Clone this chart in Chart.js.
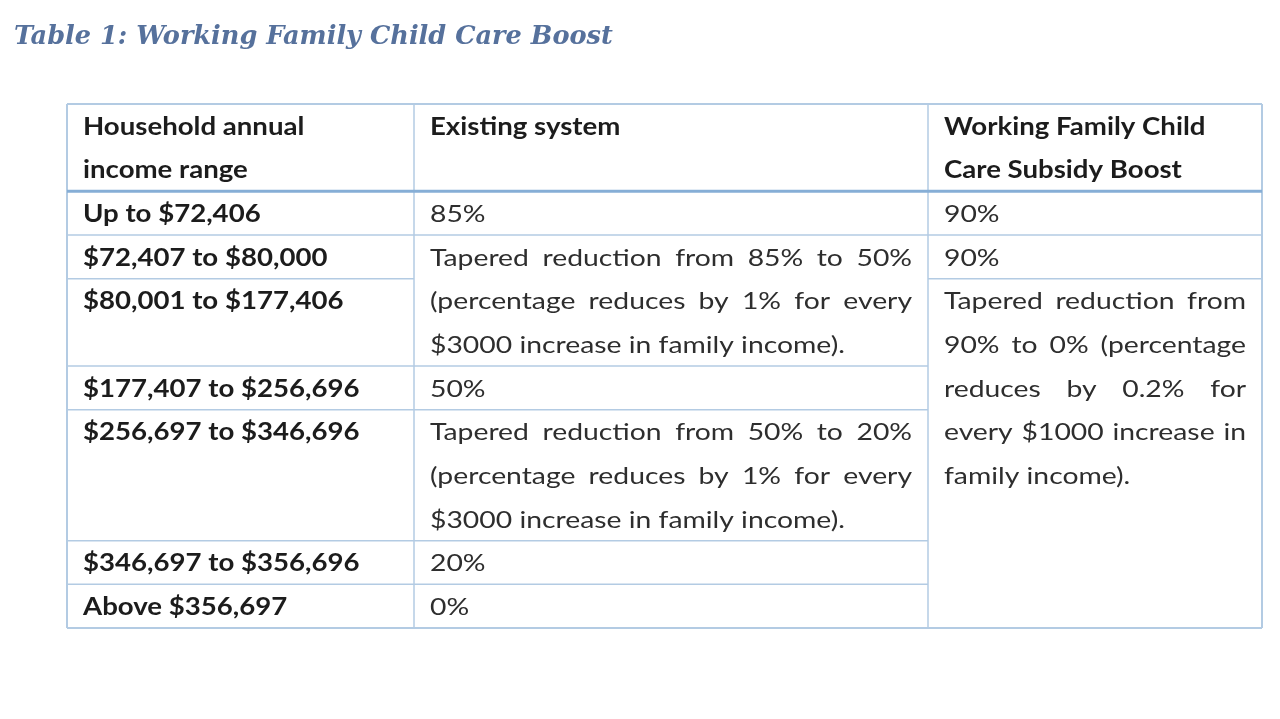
<!DOCTYPE html>
<html>
<head>
<meta charset="utf-8">
<script src="https://cdn.jsdelivr.net/npm/chart.js@4.4.1/dist/chart.umd.min.js"></script>
<style>
  html, body { margin: 0; padding: 0; background: #fff; }
  #wrap { width: 1280px; height: 719px; }
</style>
</head>
<body>
<div id="wrap"><canvas id="tableChart" width="1280" height="719"></canvas></div>
<script>
// table content
const title = "Table 1: Working Family Child Care Boost";
const headers = [
  ["Household annual", "income range"],
  ["Existing system"],
  ["Working Family Child", "Care Subsidy Boost"]
];
const incomeRanges = [
  "Up to $72,406",
  "$72,407 to $80,000",
  "$80,001 to $177,406",
  "$177,407 to $256,696",
  "$256,697 to $346,696",
  "$346,697 to $356,696",
  "Above $356,697"
];
// number of text lines each income row takes
const rowLines = [1, 1, 2, 1, 3, 1, 1];
// cells of the "existing system" column, rows = how many income rows the cell spans
const existingSystem = [
  { rows: 1, lines: ["85%"] },
  { rows: 2, lines: ["Tapered reduction from 85% to 50%", "(percentage reduces by 1% for every", "$3000 increase in family income)."] },
  { rows: 1, lines: ["50%"] },
  { rows: 1, lines: ["Tapered reduction from 50% to 20%", "(percentage reduces by 1% for every", "$3000 increase in family income)."] },
  { rows: 1, lines: ["20%"] },
  { rows: 1, lines: ["0%"] }
];
const subsidyBoost = [
  { rows: 1, lines: ["90%"] },
  { rows: 1, lines: ["90%"] },
  { rows: 5, lines: ["Tapered reduction from", "90% to 0% (percentage", "reduces by 0.2% for", "every $1000 increase in", "family income)."] }
];

// layout
const colWidths = [347, 514, 334];
const headerLines = 2;
const FONT = "Lato";
const FONT_SIZE = 24;
const SX_REG = 1.18; // the scan is stretched sideways
const SX_BOLD = 1.15;
const PAD = 16;
const BORDER = "#b3cbe3";
const HEAD_BORDER = "#86aed6";

const colEdges = [0];
colWidths.forEach(w => colEdges.push(colEdges[colEdges.length - 1] + w));
const rowEdges = [0, headerLines];
rowLines.forEach(n => rowEdges.push(rowEdges[rowEdges.length - 1] + n));
const totalLines = rowEdges[rowEdges.length - 1];

let SX = SX_REG;

function putText(ctx, text, x, base) {
  ctx.save();
  ctx.translate(x, base);
  ctx.scale(SX, 1);
  ctx.fillText(text, 0, 0);
  ctx.restore();
  return ctx.measureText(text).width * SX;
}

function drawLine(ctx, text, x0, x1, baseline, justify) {
  if (!justify) {
    putText(ctx, text, x0, baseline);
    return;
  }
  const words = text.split(" ");
  const wordsW = words.reduce((s, w) => s + ctx.measureText(w).width * SX, 0);
  const gap = (x1 - x0 - wordsW) / (words.length - 1);
  let x = x0;
  words.forEach(w => {
    x += putText(ctx, w, x, baseline) + gap;
  });
}

function drawCell(chart, col, lineStart, lines, bold, justify) {
  const { ctx, scales: { x, y } } = chart;
  const x0 = x.getPixelForValue(colEdges[col]) + PAD;
  const x1 = x.getPixelForValue(colEdges[col + 1]) - PAD;
  const unit = y.getPixelForValue(1) - y.getPixelForValue(0);
  SX = bold ? SX_BOLD : SX_REG;
  ctx.font = (bold ? "bold " : "") + FONT_SIZE + "px " + FONT;
  ctx.fillStyle = bold ? "#1c1c1c" : "#2e2e2e";
  ctx.textBaseline = "alphabetic";
  ctx.textAlign = "left";
  lines.forEach((t, i) => {
    const base = y.getPixelForValue(lineStart + i) + unit * 0.7;
    drawLine(ctx, t, x0, x1, base, justify && i < lines.length - 1);
  });
}

function hLine(chart, col, lineValue, color, width) {
  const { ctx, scales: { x, y } } = chart;
  const py = y.getPixelForValue(lineValue);
  ctx.strokeStyle = color;
  ctx.lineWidth = width;
  ctx.beginPath();
  ctx.moveTo(x.getPixelForValue(colEdges[col]), py);
  ctx.lineTo(x.getPixelForValue(colEdges[col + 1]), py);
  ctx.stroke();
}

const tablePlugin = {
  id: "tablePlugin",
  beforeDraw(chart) {
    const { ctx, width, height } = chart;
    ctx.save();
    ctx.fillStyle = "#fff";
    ctx.fillRect(0, 0, width, height);
    // title
    ctx.font = "italic bold 28px 'DejaVu Serif'";
    const tw = ctx.measureText(title).width;
    const fs = 28 * 598 / tw;
    ctx.font = "italic bold " + fs.toFixed(1) + "px 'DejaVu Serif'";
    ctx.fillStyle = "#56719c";
    ctx.textBaseline = "alphabetic";
    ctx.fillText(title, 14, 44);
    ctx.restore();
  },
  afterDraw(chart) {
    const { ctx, scales: { x, y } } = chart;
    ctx.save();

    // grid lines inside each column
    for (let r = 1; r < incomeRanges.length; r++) hLine(chart, 0, rowEdges[r + 1], BORDER, 1.5);
    [existingSystem, subsidyBoost].forEach((cells, ci) => {
      let r = 0;
      cells.forEach((c, k) => {
        if (k > 0) hLine(chart, ci + 1, rowEdges[r + 1], BORDER, 1.5);
        r += c.rows;
      });
    });
    // vertical lines
    colEdges.forEach((v, i) => {
      const px = x.getPixelForValue(v);
      ctx.strokeStyle = BORDER;
      ctx.lineWidth = (i === 0 || i === colEdges.length - 1) ? 2 : 1.5;
      ctx.beginPath();
      ctx.moveTo(px, y.getPixelForValue(0));
      ctx.lineTo(px, y.getPixelForValue(totalLines));
      ctx.stroke();
    });
    // outer top / bottom and header rule
    [0, totalLines].forEach(v => colWidths.forEach((w, c) => hLine(chart, c, v, BORDER, 2)));
    colWidths.forEach((w, c) => hLine(chart, c, headerLines, HEAD_BORDER, 3));

    // header text
    headers.forEach((h, c) => drawCell(chart, c, 0, h, true, false));
    // income ranges
    incomeRanges.forEach((t, r) => drawCell(chart, 0, rowEdges[r + 1], [t], true, false));
    // other columns
    [existingSystem, subsidyBoost].forEach((cells, ci) => {
      let r = 0;
      cells.forEach(c => {
        drawCell(chart, ci + 1, rowEdges[r + 1], c.lines, false, true);
        r += c.rows;
      });
    });
    ctx.restore();
  }
};

function build() {
  new Chart(document.getElementById("tableChart"), {
    type: "scatter",
    data: { datasets: [] },
    options: {
      responsive: false,
      animation: false,
      devicePixelRatio: 1,
      layout: { padding: { left: 67, right: 18, top: 104, bottom: 91 } },
      plugins: { legend: { display: false }, tooltip: { enabled: false } },
      scales: {
        x: { type: "linear", min: 0, max: colEdges[colEdges.length - 1], display: false },
        y: { type: "linear", min: 0, max: totalLines, reverse: true, display: false }
      }
    },
    plugins: [tablePlugin]
  });
}

Promise.all([
  document.fonts.load("bold 24px Lato"),
  document.fonts.load("24px Lato"),
  document.fonts.load("italic bold 28px 'DejaVu Serif'")
]).then(build, build);
</script>
</body>
</html>
